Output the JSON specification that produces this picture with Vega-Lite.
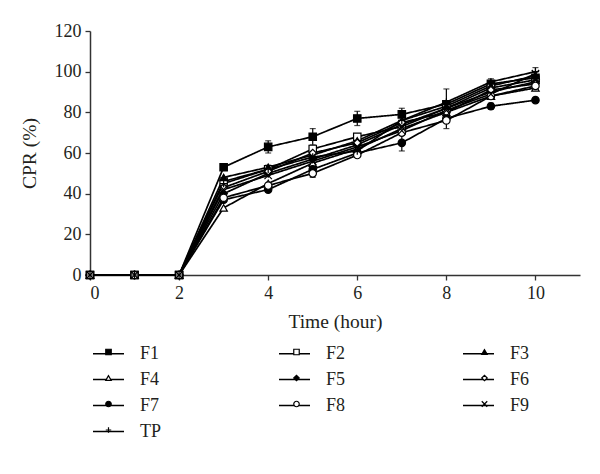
{
  "$schema": "https://vega.github.io/schema/vega-lite/v6.json",
  "autosize": "none",
  "width": 490,
  "height": 244,
  "padding": {"left": 90, "top": 31, "right": 20, "bottom": 199},
  "config": {
    "view": {"stroke": null},
    "font": "Liberation Serif",
    "axis": {"labelFont": "Liberation Serif", "titleFont": "Liberation Serif", "labelFontSize": 18, "titleFontSize": 19.5, "titleFontWeight": "normal", "labelColor": "#231f20", "titleColor": "#231f20", "domainColor": "#333", "domainWidth": 1.5, "tickColor": "#333", "tickWidth": 1.3, "tickSize": 5, "grid": false, "labelPadding": 4}
  },
  "datasets": {
    "wide": [
      {"t": 0, "F1": 0, "F2": 0, "F3": 0, "F4": 0, "F5": 0, "F6": 0, "F7": 0, "F8": 0, "F9": 0, "TP": 0},
      {"t": 1, "F1": 0, "F2": 0, "F3": 0, "F4": 0, "F5": 0, "F6": 0, "F7": 0, "F8": 0, "F9": 0, "TP": 0},
      {"t": 2, "F1": 0, "F2": 0, "F3": 0, "F4": 0, "F5": 0, "F6": 0, "F7": 0, "F8": 0, "F9": 0, "TP": 0},
      {"t": 3, "F1": 53, "F2": 46, "F3": 48, "F4": 33, "F5": 40, "F6": 43, "F7": 37, "F8": 38, "F9": 42, "TP": 45},
      {"t": 4, "F1": 63, "F2": 52, "F3": 53, "F4": 45, "F5": 50, "F6": 51, "F7": 42, "F8": 44, "F9": 49, "TP": 52},
      {"t": 5, "F1": 68, "F2": 62, "F3": 59, "F4": 55, "F5": 57, "F6": 60, "F7": 52, "F8": 50, "F9": 56, "TP": 58},
      {"t": 6, "F1": 77, "F2": 68, "F3": 66, "F4": 62, "F5": 64, "F6": 65, "F7": 60, "F8": 59, "F9": 63, "TP": 61},
      {"t": 7, "F1": 79, "F2": 73, "F3": 76, "F4": 72, "F5": 74, "F6": 75, "F7": 65, "F8": 70, "F9": 71, "TP": 76},
      {"t": 8, "F1": 84, "F2": 82, "F3": 83, "F4": 80, "F5": 82, "F6": 80, "F7": 77, "F8": 76, "F9": 81, "TP": 85},
      {"t": 9, "F1": 94, "F2": 92, "F3": 93, "F4": 88, "F5": 90, "F6": 91, "F7": 83, "F8": 88, "F9": 89, "TP": 95},
      {"t": 10, "F1": 97, "F2": 96, "F3": 98, "F4": 92, "F5": 95, "F6": 94, "F7": 86, "F8": 93, "F9": 99, "TP": 100}
    ],
    "errs": [
      {"series": "F1", "t": 4, "cpr": 63, "err": 3},
      {"series": "F1", "t": 5, "cpr": 68, "err": 4},
      {"series": "F1", "t": 6, "cpr": 77, "err": 3.5},
      {"series": "F1", "t": 7, "cpr": 79, "err": 3},
      {"series": "F2", "t": 4, "cpr": 52, "err": 2},
      {"series": "F8", "t": 5, "cpr": 50, "err": 2},
      {"series": "F3", "t": 6, "cpr": 66, "err": 2},
      {"series": "F7", "t": 7, "cpr": 65, "err": 4},
      {"series": "TP", "t": 8, "cpr": 85, "err": 6.5},
      {"series": "F8", "t": 8, "cpr": 76, "err": 4},
      {"series": "F1", "t": 9, "cpr": 94, "err": 2.5},
      {"series": "F7", "t": 9, "cpr": 83, "err": 1.5},
      {"series": "TP", "t": 10, "cpr": 100, "err": 2}
    ]
  },
  "layer": [
    {
      "data": {"name": "wide"},
      "transform": [{"fold": ["F1", "F2", "F3", "F4", "F5", "F6", "F7", "F8", "F9", "TP"], "as": ["series", "cpr"]}],
      "mark": {"type": "line", "color": "black", "strokeWidth": 1.7},
      "encoding": {
        "x": {"field": "t", "type": "quantitative", "scale": {"domain": [0, 11]}, "axis": {"values": [0, 2, 4, 6, 8, 10], "title": "Time (hour)", "titlePadding": 10}},
        "y": {"field": "cpr", "type": "quantitative", "title": "CPR (%)", "scale": {"domain": [0, 120]}, "axis": {"values": [0, 20, 40, 60, 80, 100, 120], "titlePadding": 15}},
        "strokeDash": {"field": "series", "type": "nominal", "title": null,
          "scale": {"range": [[1, 0], [1, 0], [1, 0], [1, 0], [1, 0], [1, 0], [1, 0], [1, 0], [1, 0], [1, 0]]},
          "legend": {"orient": "none", "direction": "horizontal", "legendX": 2, "legendY": 306, "columns": 3, "symbolType": "stroke", "symbolSize": 961, "symbolOffset": 0, "labelOffset": 15, "columnPadding": 114, "rowPadding": -5, "labelFontSize": 18, "labelFont": "Liberation Serif", "labelColor": "#231f20", "symbolStrokeColor": "black", "symbolStrokeWidth": 1.5}},
        "order": {"field": "t"}
      }
    },
    {
      "data": {"name": "errs"},
      "mark": {"type": "errorbar", "color": "black", "thickness": 1.2, "ticks": {"size": 6, "color": "black", "thickness": 1.2}},
      "encoding": {
        "x": {"field": "t", "type": "quantitative"},
        "y": {"field": "cpr", "type": "quantitative", "title": "CPR (%)"},
        "yError": {"field": "err"}
      }
    },
    {
      "data": {"name": "wide"},
      "transform": [{"fold": ["F1", "F2", "F3", "F4", "F5", "F6", "F7", "F8", "F9", "TP"], "as": ["formulation", "cpr"]}],
      "mark": {"type": "point", "filled": true, "stroke": "black", "strokeWidth": 1.2, "size": 55, "opacity": 1},
      "encoding": {
        "x": {"field": "t", "type": "quantitative"},
        "y": {"field": "cpr", "type": "quantitative", "title": "CPR (%)"},
        "shape": {"field": "formulation", "type": "nominal", "title": null,
          "scale": {"domain": ["F1", "F2", "F3", "F4", "F5", "F6", "F7", "F8", "F9", "TP"], "range": ["square", "square", "triangle-up", "triangle-up", "diamond", "diamond", "circle", "circle", "M-1,-1L1,1M-1,1L1,-1", "M-1,0L1,0M0,-1L0,1"]},
          "legend": {"orient": "none", "direction": "horizontal", "legendX": 2, "legendY": 312, "columns": 3, "symbolSize": 30, "symbolOffset": 7.5, "labelOffset": 28, "columnPadding": 134, "rowPadding": 8, "labelFontSize": 18, "labelFont": "Liberation Serif", "labelExpr": "''", "symbolStrokeColor": "black", "symbolStrokeWidth": 1.2, "symbolOpacity": 1,
            "encode": {"symbols": {"update": {"stroke": {"value": "black"}, "strokeWidth": {"value": 1.2}, "opacity": {"value": 1}}}}}},
        "fill": {"field": "formulation", "type": "nominal", "title": null,
          "scale": {"domain": ["F1", "F2", "F3", "F4", "F5", "F6", "F7", "F8", "F9", "TP"], "range": ["black", "white", "black", "white", "black", "white", "black", "white", "black", "black"]},
          "legend": {"orient": "none", "direction": "horizontal", "legendX": 2, "legendY": 312, "columns": 3, "symbolSize": 30, "symbolOffset": 7.5, "labelOffset": 28, "columnPadding": 134, "rowPadding": 8, "labelFontSize": 18, "labelFont": "Liberation Serif", "labelExpr": "''", "symbolStrokeColor": "black", "symbolStrokeWidth": 1.2, "symbolOpacity": 1,
            "encode": {"symbols": {"update": {"stroke": {"value": "black"}, "strokeWidth": {"value": 1.2}, "opacity": {"value": 1}}}}}}
      }
    }
  ]
}
